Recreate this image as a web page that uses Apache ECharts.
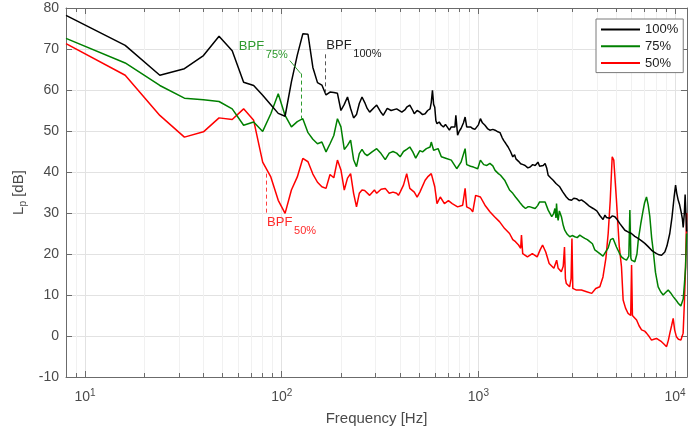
<!DOCTYPE html>
<html>
<head>
<meta charset="utf-8">
<script src="https://cdn.jsdelivr.net/npm/echarts@6/dist/echarts.min.js"></script>
<style>
html,body{margin:0;padding:0;background:#fff;}
#chart{width:688px;height:432px;}
</style>
</head>
<body>
<div id="chart"></div>
<script>
// ---------- data ----------
const seriesNames = ['100%', '75%', '50%'];

const blackFreq = [
  8,16,24,32,40,48,56,64,72,80,
  88,96,104,112,120,128,136,144,152,160,
  168,176,184,192,200,208,216,224,232,240,
  248,256,264,272,280,296,304,320,328,344,
  360,368,384,392,408,424,432,448,464,472,
  488,504,520,536,552,568,576,584,592,600,
  608,616,632,648,664,680,696,712,728,744,
  760,768,784,800,816,840,856,872,888,912,
  936,960,976,1000,1024,1048,1080,1112,1144,1184,
  1216,1256,1288,1320,1344,1376,1416,1456,1496,1528,
  1552,1600,1640,1688,1728,1784,1832,1888,1944,2008,
  2048,2096,2136,2184,2224,2264,2328,2400,2480,2592,
  2680,2800,2880,2976,3056,3152,3248,3344,3440,3544,
  3680,3832,3920,4000,4144,4304,4400,4480,4656,4800,
  4940,5080,5240,5400,5560,5760,6000,6240,6490,6760,
  7020,7300,7600,7800,8050,8300,8540,8700,8870,9100,
  9400,9650,9890,10060,10200,10380,10550,10710,10900,11000,
  11150,11250,11350,11450
];
const blackLevel = [
  78.2,70.9,63.6,65.2,68.4,73.1,69.6,61.9,61.1,58.7,
  56.4,54.3,53.6,62.0,68.5,73.7,73.6,65.5,61.8,61.2,
  58.8,59.5,59.4,59.2,55.0,56.5,58.3,55.5,53.2,54.0,
  56.7,58.3,57.0,55.5,54.6,55.8,56.3,54.5,53.8,55.5,
  55.0,54.6,55.4,55.8,54.6,55.2,55.8,56.3,55.0,54.2,
  55.0,54.6,54.0,54.2,55.0,55.4,57.0,59.9,56.5,55.8,
  52.5,51.8,52.2,51.4,51.0,51.6,51.4,50.2,51.0,51.2,
  51.0,53.8,49.0,50.0,50.6,52.0,53.4,51.0,50.6,51.0,
  50.6,50.4,50.2,51.5,53.0,52.0,51.4,50.6,50.2,50.4,
  50.2,49.8,49.6,48.4,47.7,47.0,46.1,45.0,43.7,44.2,
  43.2,42.6,42.0,41.8,41.6,41.0,41.2,41.8,41.6,42.4,
  41.4,41.8,41.6,42.1,41.0,39.2,38.6,38.0,37.2,36.4,
  35.2,33.9,33.3,33.1,33.6,33.5,33.0,33.2,32.8,32.3,
  31.6,31.1,31.5,30.5,29.4,28.4,29.5,28.9,28.7,29.3,
  29.1,28.4,27.4,26.6,25.8,25.4,25.0,24.3,23.8,23.2,
  22.6,21.8,20.9,20.5,20.1,19.8,19.7,19.9,20.5,22.0,
  25.0,29.0,33.9,36.8,34.8,33.1,32.0,30.5,28.5,26.5,
  30.0,34.5,30.0,25.5
];

const greenFreq = [
  8,16,24,32,40,48,56,64,72,80,
  88,96,104,112,120,128,136,144,152,160,
  168,176,184,192,200,208,216,224,232,240,
  248,256,264,272,288,304,320,336,352,368,
  384,400,416,432,448,464,480,504,520,544,
  568,576,592,624,648,688,728,776,816,856,
  872,912,944,992,1024,1064,1104,1144,1184,1216,
  1264,1296,1360,1400,1440,1496,1544,1600,1640,1688,
  1736,1784,1832,1888,1944,2000,2048,2096,2184,2264,
  2360,2410,2450,2480,2496,2520,2544,2580,2643,2700,
  2748,2830,2915,3000,3091,3180,3278,3376,3476,3580,
  3686,3800,3909,4000,4144,4300,4400,4570,4700,4840,
  5035,5200,5340,5500,5665,5820,5891,5960,6010,6243,
  6400,6500,6700,6883,7000,7158,7300,7443,7600,7741,
  7950,8205,8450,8702,8950,9227,9500,9782,10100,10380,
  10700,10870,11000,11150,11310,11450
];
const greenLevel = [
  72.6,66.6,61.1,58.0,57.6,57.2,55.4,51.4,52.2,49.9,
  54.2,59.1,53.8,51.0,52.3,53.0,49.6,48.0,46.9,47.3,
  44.9,46.9,48.9,53.0,51.0,45.5,46.5,47.8,43.0,41.3,
  44.5,45.5,44.5,44.0,44.9,45.7,44.5,43.0,44.6,45.0,
  44.6,43.7,45.0,45.5,46.1,44.9,43.4,45.2,44.9,45.7,
  46.1,47.3,45.3,45.7,43.7,43.3,42.9,40.8,42.4,45.7,
  41.8,41.4,41.2,40.8,42.9,41.8,41.6,42.1,41.5,40.4,
  39.6,39.2,38.0,36.8,35.6,34.8,33.9,33.0,32.3,31.6,
  31.1,31.5,31.5,31.3,31.1,31.8,32.7,32.4,32.7,30.7,
  29.1,29.8,31.1,28.8,32.3,29.5,28.2,30.5,29.1,27.0,
  25.8,24.8,24.2,24.5,24.2,24.0,24.6,24.2,23.8,23.5,
  23.0,22.5,21.0,20.6,20.1,19.5,19.3,21.5,23.5,23.8,
  21.7,20.3,19.3,18.8,18.5,19.5,30.7,19.0,18.5,18.1,
  20.0,23.4,27.5,30.7,32.5,33.9,32.0,29.1,24.0,20.9,
  15.5,12.0,10.8,10.0,10.6,11.2,10.5,9.6,8.8,8.0,
  7.3,7.1,9.0,12.5,16.9,25.0
];

const redFreq = [
  8,16,24,32,40,48,56,64,72,80,
  88,96,104,112,120,128,136,144,152,160,
  168,176,184,192,200,208,216,224,232,240,
  248,256,264,280,296,304,320,336,352,368,
  384,392,400,416,432,448,472,488,504,536,
  552,576,600,616,640,672,704,736,784,832,
  856,872,912,936,968,1024,1080,1144,1208,1280,
  1360,1440,1496,1544,1600,1640,1656,1680,1776,1880,
  1990,2060,2120,2200,2290,2420,2500,2545,2640,2700,
  2740,2770,2800,2910,2960,2990,3020,3150,3340,3550,
  3770,3950,4144,4300,4450,4570,4680,4790,4880,5035,
  5200,5340,5445,5600,5770,5950,6010,6070,6124,6373,
  6560,6757,7000,7158,7400,7593,7800,8048,8300,8535,
  8800,9054,9250,9410,9600,9782,9950,10160,10400,10710,
  10990,11150,11310,11450
];
const redLevel = [
  71.3,63.6,53.8,48.5,49.8,53.2,52.8,55.4,52.6,42.4,
  38.8,33.1,29.9,35.6,38.8,43.3,42.5,39.5,37.5,36.4,
  36.0,39.4,38.6,42.9,40.5,35.6,38.5,39.6,34.8,31.5,
  34.8,35.6,35.5,34.3,35.6,34.8,35.8,36.0,34.8,35.1,
  34.8,34.3,35.1,36.8,39.6,36.0,35.1,33.9,35.1,38.0,
  38.8,39.6,36.4,32.3,33.9,32.3,33.0,32.3,31.5,31.9,
  36.0,31.5,31.0,30.3,34.3,33.9,31.9,30.3,29.1,27.9,
  26.2,25.0,23.5,23.0,22.2,21.4,24.6,20.1,19.3,20.1,
  19.3,21.0,22.2,20.5,17.7,16.5,18.5,16.5,15.7,17.0,
  21.7,14.0,12.8,12.0,14.0,23.8,11.6,11.2,11.2,10.8,
  10.4,11.6,12.0,14.4,19.0,25.0,33.0,43.7,42.9,33.1,
  22.0,16.9,8.8,6.8,5.5,5.0,17.3,5.0,4.7,3.9,
  2.5,1.5,1.2,0.7,-0.2,-1.0,-0.8,-0.6,-1.0,-1.4,
  -2.0,-2.6,-1.0,0.7,2.5,4.3,1.5,-0.2,-0.8,-1.0,
  0.7,8.0,16.9,30.0
];

// blade passing frequencies [100%, 75%, 50%] and labels
const bpfFreq = [166.7, 125, 83.3];
const bpfSub = ['100%', '75%', '50%'];
// annotation line extents (dB): [top, bottom]
const bpfLineLevels = [[68.7, 58.7], [64, 53], [39.6, 30]];

// axis ticks
const xMajorTicks = [10, 100, 1000, 10000];
const xMinorTicks = [9,20,30,40,50,60,70,80,90,200,300,400,500,600,700,800,900,2000,3000,4000,5000,6000,7000,8000,9000];

// ---------- chart ----------
const C_BLACK = '#000000', C_GREEN = '#008000', C_RED = '#ff0000';
const AX = '#6b6b6b', TXT = '#4a4a4a', FONT = '"Liberation Sans", Arial, Helvetica, sans-serif';

function pairs(f, l) { return f.map((v, i) => [v, l[i]]); }

function isPow10(v) {
  const lg = Math.log10(v);
  return Math.abs(lg - Math.round(lg)) < 1e-6;
}

const chart = echarts.init(document.getElementById('chart'), null, {renderer: 'canvas'});

const xCommon = { type: 'log', logBase: 10, min: 8, max: 11500, gridIndex: 0 };

function dashSeg(f, lv) {
  return [{ coord: [f, lv[0]] }, { coord: [f, lv[1]] }];
}

const option = {
  animation: false,
  textStyle: { fontFamily: FONT },
  grid: { left: 66, right: 1, top: 8, bottom: 55, containLabel: false, outerBoundsMode: 'none' },
  legend: {
    show: true,
    data: seriesNames,
    orient: 'vertical',
    left: 596, top: 19,
    padding: [4, 5, 3, 4],
    itemGap: 3.8,
    itemWidth: 39, itemHeight: 14,
    backgroundColor: '#ffffff',
    borderColor: '#7a7a7a', borderWidth: 1, borderRadius: 0,
    textStyle: { fontSize: 13, color: '#222', fontFamily: FONT },
    itemStyle: { color: 'rgba(0,0,0,0)', borderWidth: 0, borderColor: 'rgba(0,0,0,0)' },
    z: 20
  },
  xAxis: [
    Object.assign({}, xCommon, {
      position: 'bottom',
      axisLine: { show: true, onZero: false, lineStyle: { color: AX, width: 1 } },
      axisTick: { show: true, inside: true, length: 6, lineStyle: { color: AX } },
      axisLabel: {
        show: true, margin: 11, color: TXT, fontFamily: FONT,
        formatter: function (v) {
          if (!isPow10(v)) return '';
          return '{b|10}{s|' + Math.round(Math.log10(v)) + '}';
        },
        rich: {
          b: { fontSize: 14, color: TXT, fontFamily: FONT },
          s: { fontSize: 10, color: TXT, fontFamily: FONT, padding: [0, 0, 9, 0] }
        }
      },
      splitLine: { show: true, lineStyle: { color: '#e2e2e2', width: 1 } },
      name: 'Frequency [Hz]', nameLocation: 'middle', nameGap: 34,
      nameTextStyle: { fontSize: 15, color: TXT, fontFamily: FONT }
    }),
    Object.assign({}, xCommon, {
      position: 'bottom',
      axisLine: { show: false, onZero: false },
      axisTick: { show: true, inside: true, length: 4, customValues: xMinorTicks, lineStyle: { color: AX } },
      axisLabel: { show: false },
      splitLine: { show: true, lineStyle: { color: '#f1f1f1', width: 1 } }
    }),
    Object.assign({}, xCommon, {
      position: 'top',
      axisLine: { show: true, onZero: false, lineStyle: { color: AX, width: 1 } },
      axisTick: { show: true, inside: true, length: 6, customValues: xMajorTicks, lineStyle: { color: AX } },
      axisLabel: { show: false },
      splitLine: { show: false }
    }),
    Object.assign({}, xCommon, {
      position: 'top',
      axisLine: { show: false, onZero: false },
      axisTick: { show: true, inside: true, length: 4, customValues: xMinorTicks, lineStyle: { color: AX } },
      axisLabel: { show: false },
      splitLine: { show: false }
    })
  ],
  yAxis: [
    {
      type: 'value', min: -10, max: 80, interval: 10, position: 'left',
      axisLine: { show: true, onZero: false, lineStyle: { color: AX, width: 1 } },
      axisTick: { show: true, inside: true, length: 6, lineStyle: { color: AX } },
      axisLabel: { show: true, margin: 7, fontSize: 14, color: TXT, fontFamily: FONT },
      splitLine: { show: true, lineStyle: { color: '#e2e2e2', width: 1 } },
      name: 'L{s|p} [dB]', nameLocation: 'middle', nameGap: 38, nameRotate: 90,
      nameTextStyle: {
        fontSize: 15, color: TXT, fontFamily: FONT,
        rich: { s: { fontSize: 10, color: TXT, fontFamily: FONT, padding: [8, 0, 0, 0] } }
      }
    },
    {
      type: 'value', min: -10, max: 80, interval: 10, position: 'right',
      axisLine: { show: true, onZero: false, lineStyle: { color: AX, width: 1 } },
      axisTick: { show: true, inside: true, length: 6, lineStyle: { color: AX } },
      axisLabel: { show: false },
      splitLine: { show: false }
    }
  ],
  series: [
    {
      name: seriesNames[0], type: 'line', xAxisIndex: 0, yAxisIndex: 0,
      data: pairs(blackFreq, blackLevel), symbol: 'none', smooth: false,
      lineStyle: { color: C_BLACK, width: 1.5 }, itemStyle: { color: C_BLACK }, z: 4,
      markLine: {
        silent: true, symbol: ['none', 'none'], label: { show: false },
        lineStyle: { color: '#555555', type: [4, 3], width: 1 },
        data: [dashSeg(bpfFreq[0], bpfLineLevels[0])]
      }
    },
    {
      name: seriesNames[1], type: 'line', xAxisIndex: 0, yAxisIndex: 0,
      data: pairs(greenFreq, greenLevel), symbol: 'none', smooth: false,
      lineStyle: { color: C_GREEN, width: 1.5 }, itemStyle: { color: C_GREEN }, z: 3,
      markLine: {
        silent: true, symbol: ['none', 'none'], label: { show: false },
        lineStyle: { color: '#2e9a2e', type: [4, 3], width: 1 },
        data: [dashSeg(bpfFreq[1], bpfLineLevels[1])]
      }
    },
    {
      name: seriesNames[2], type: 'line', xAxisIndex: 0, yAxisIndex: 0,
      data: pairs(redFreq, redLevel), symbol: 'none', smooth: false,
      lineStyle: { color: C_RED, width: 1.5 }, itemStyle: { color: C_RED }, z: 2,
      markLine: {
        silent: true, symbol: ['none', 'none'], label: { show: false },
        lineStyle: { color: '#ff4040', type: [4, 3], width: 1 },
        data: [dashSeg(bpfFreq[2], bpfLineLevels[2])]
      }
    }
  ]
};

chart.setOption(option);

// ---------- BPF text annotations, anchored at the BPF frequencies ----------
function P(f, v) { return chart.convertToPixel({ xAxisIndex: 0, yAxisIndex: 0 }, [f, v]); }
const labelColors = ['#222222', '#2e9a2e', '#ff2a2a'];
const labelLevels = [70.8, 70.6, 27.6];
const labelDx = [1, -62, 1];
const graphics = [];
for (let i = 0; i < 3; i++) {
  const p = P(bpfFreq[i], labelLevels[i]);
  const x = p[0] + labelDx[i], y = p[1];
  graphics.push({
    type: 'text', x: x, y: y, z: 100,
    style: { text: 'BPF', fill: labelColors[i], font: '13px ' + FONT, textAlign: 'left', textVerticalAlign: 'middle' }
  });
  graphics.push({
    type: 'text', x: x + 27, y: y + 8, z: 100,
    style: { text: bpfSub[i], fill: labelColors[i], font: '11px ' + FONT, textAlign: 'left', textVerticalAlign: 'middle' }
  });
}
// small leader from the 75% label to its dashed line
const a = P(bpfFreq[1], labelLevels[1]);
const b = P(bpfFreq[1], bpfLineLevels[1][0]);
graphics.push({
  type: 'line', z: 100,
  shape: { x1: a[0] - 11, y1: a[1] + 14, x2: b[0], y2: b[1] },
  style: { stroke: '#2e9a2e', lineWidth: 1 }
});
chart.setOption({ graphic: graphics });
</script>
</body>
</html>
